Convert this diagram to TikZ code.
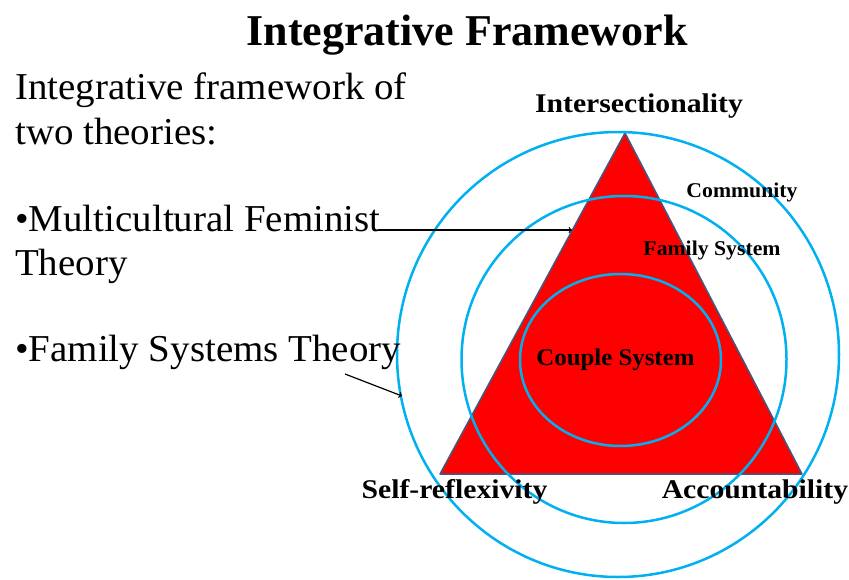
\documentclass[tikz,border=0pt]{standalone}
\usepackage{fontspec}
\setmainfont{Liberation Serif}
\newfontfamily\bodyfont[FakeStretch=1.025]{Liberation Serif}
\newfontfamily\cornerfont[FakeStretch=1.1]{Liberation Serif}
\newfontfamily\ringfont[FakeStretch=1.035]{Liberation Serif}
\usetikzlibrary{arrows}
\definecolor{ringblue}{HTML}{00B0F0}
\definecolor{edgeblue}{HTML}{3F5B85}

\begin{document}
\begin{tikzpicture}[x=1pt,y=-1pt,
	bodytext/.style={anchor=base west, inner sep=0pt, font=\bodyfont\fontsize{38}{45}\selectfont},
	cornerlabel/.style={anchor=base, inner sep=0pt, font=\cornerfont\bfseries\fontsize{27}{30}\selectfont},
	ringlabel/.style={anchor=base, inner sep=0pt, font=\ringfont\bfseries\fontsize{21}{24}\selectfont},
	ring/.style={ringblue, line width=2.5pt}]

	\useasboundingbox (0,0) rectangle (849,579);

	%Define the corners of the triangle
	%apex = (\ax,\ay), base from (\bx,\by) to (\cx,\by)
	\pgfmathsetmacro{\ax}{625}
	\pgfmathsetmacro{\ay}{133}
	\pgfmathsetmacro{\bx}{440}
	\pgfmathsetmacro{\cx}{802}
	\pgfmathsetmacro{\by}{474}

	%Draw the triangle first, the rings go over it
	\fill[red] (\ax,\ay) -- (\bx,\by) -- (\cx,\by) -- cycle;
	\draw[edgeblue, line width=1.5pt, line join=round] (\ax,\ay) -- (\bx,\by) -- (\cx,\by) -- cycle;

	%Community, family system and couple system rings
	\draw[ring] (618,354.5) circle[x radius=221pt, y radius=222.5pt];
	\draw[ring] (624,359.5) circle[x radius=162.5pt, y radius=163.5pt];
	\draw[ring] (620.5,360) circle[x radius=100.5pt, y radius=86pt];

	%Title and the text on the left
	\draw node[anchor=base, inner sep=0pt, font=\bfseries\fontsize{44}{50}\selectfont] (title) at (467,45) {Integrative Framework};

	\draw node[bodytext] (intro1) at (15,99.5) {Integrative framework of};
	\draw node[bodytext] (intro2) at (15,144) {two theories:};
	\draw node[bodytext] (mft1) at (15,231.5) {•Multicultural Feminist};
	\draw node[bodytext] (mft2) at (15,275) {Theory};
	\draw node[bodytext] (fst) at (15,361.5) {•Family Systems Theory};

	%Labels of the corners and the rings
	\draw node[cornerlabel] (inter) at (639,112) {Intersectionality};
	\draw node[cornerlabel] (self) at (454.5,498) {Self-reflexivity};
	\draw node[cornerlabel] (account) at (755,498) {Accountability};

	\draw node[ringlabel] (comm) at (742,197.5) {Community};
	\draw node[ringlabel] (family) at (712,255) {Family System};
	\draw node[cornerlabel, font=\ringfont\bfseries\fontsize{24}{28}\selectfont] (couple) at (615.5,365) {Couple System};

	%Pointers from the theories to the picture
	\coordinate (mft_start) at (378,230);
	\coordinate (mft_arrow) at (572,230);
	\coordinate (fst_start) at (345,374);
	\coordinate (fst_arrow) at (402,396);
	\draw[->,line width=1.2pt] (mft_start) -- (mft_arrow);
	\draw[->,line width=1.2pt] (fst_start) -- (fst_arrow);

\end{tikzpicture}
\end{document}
